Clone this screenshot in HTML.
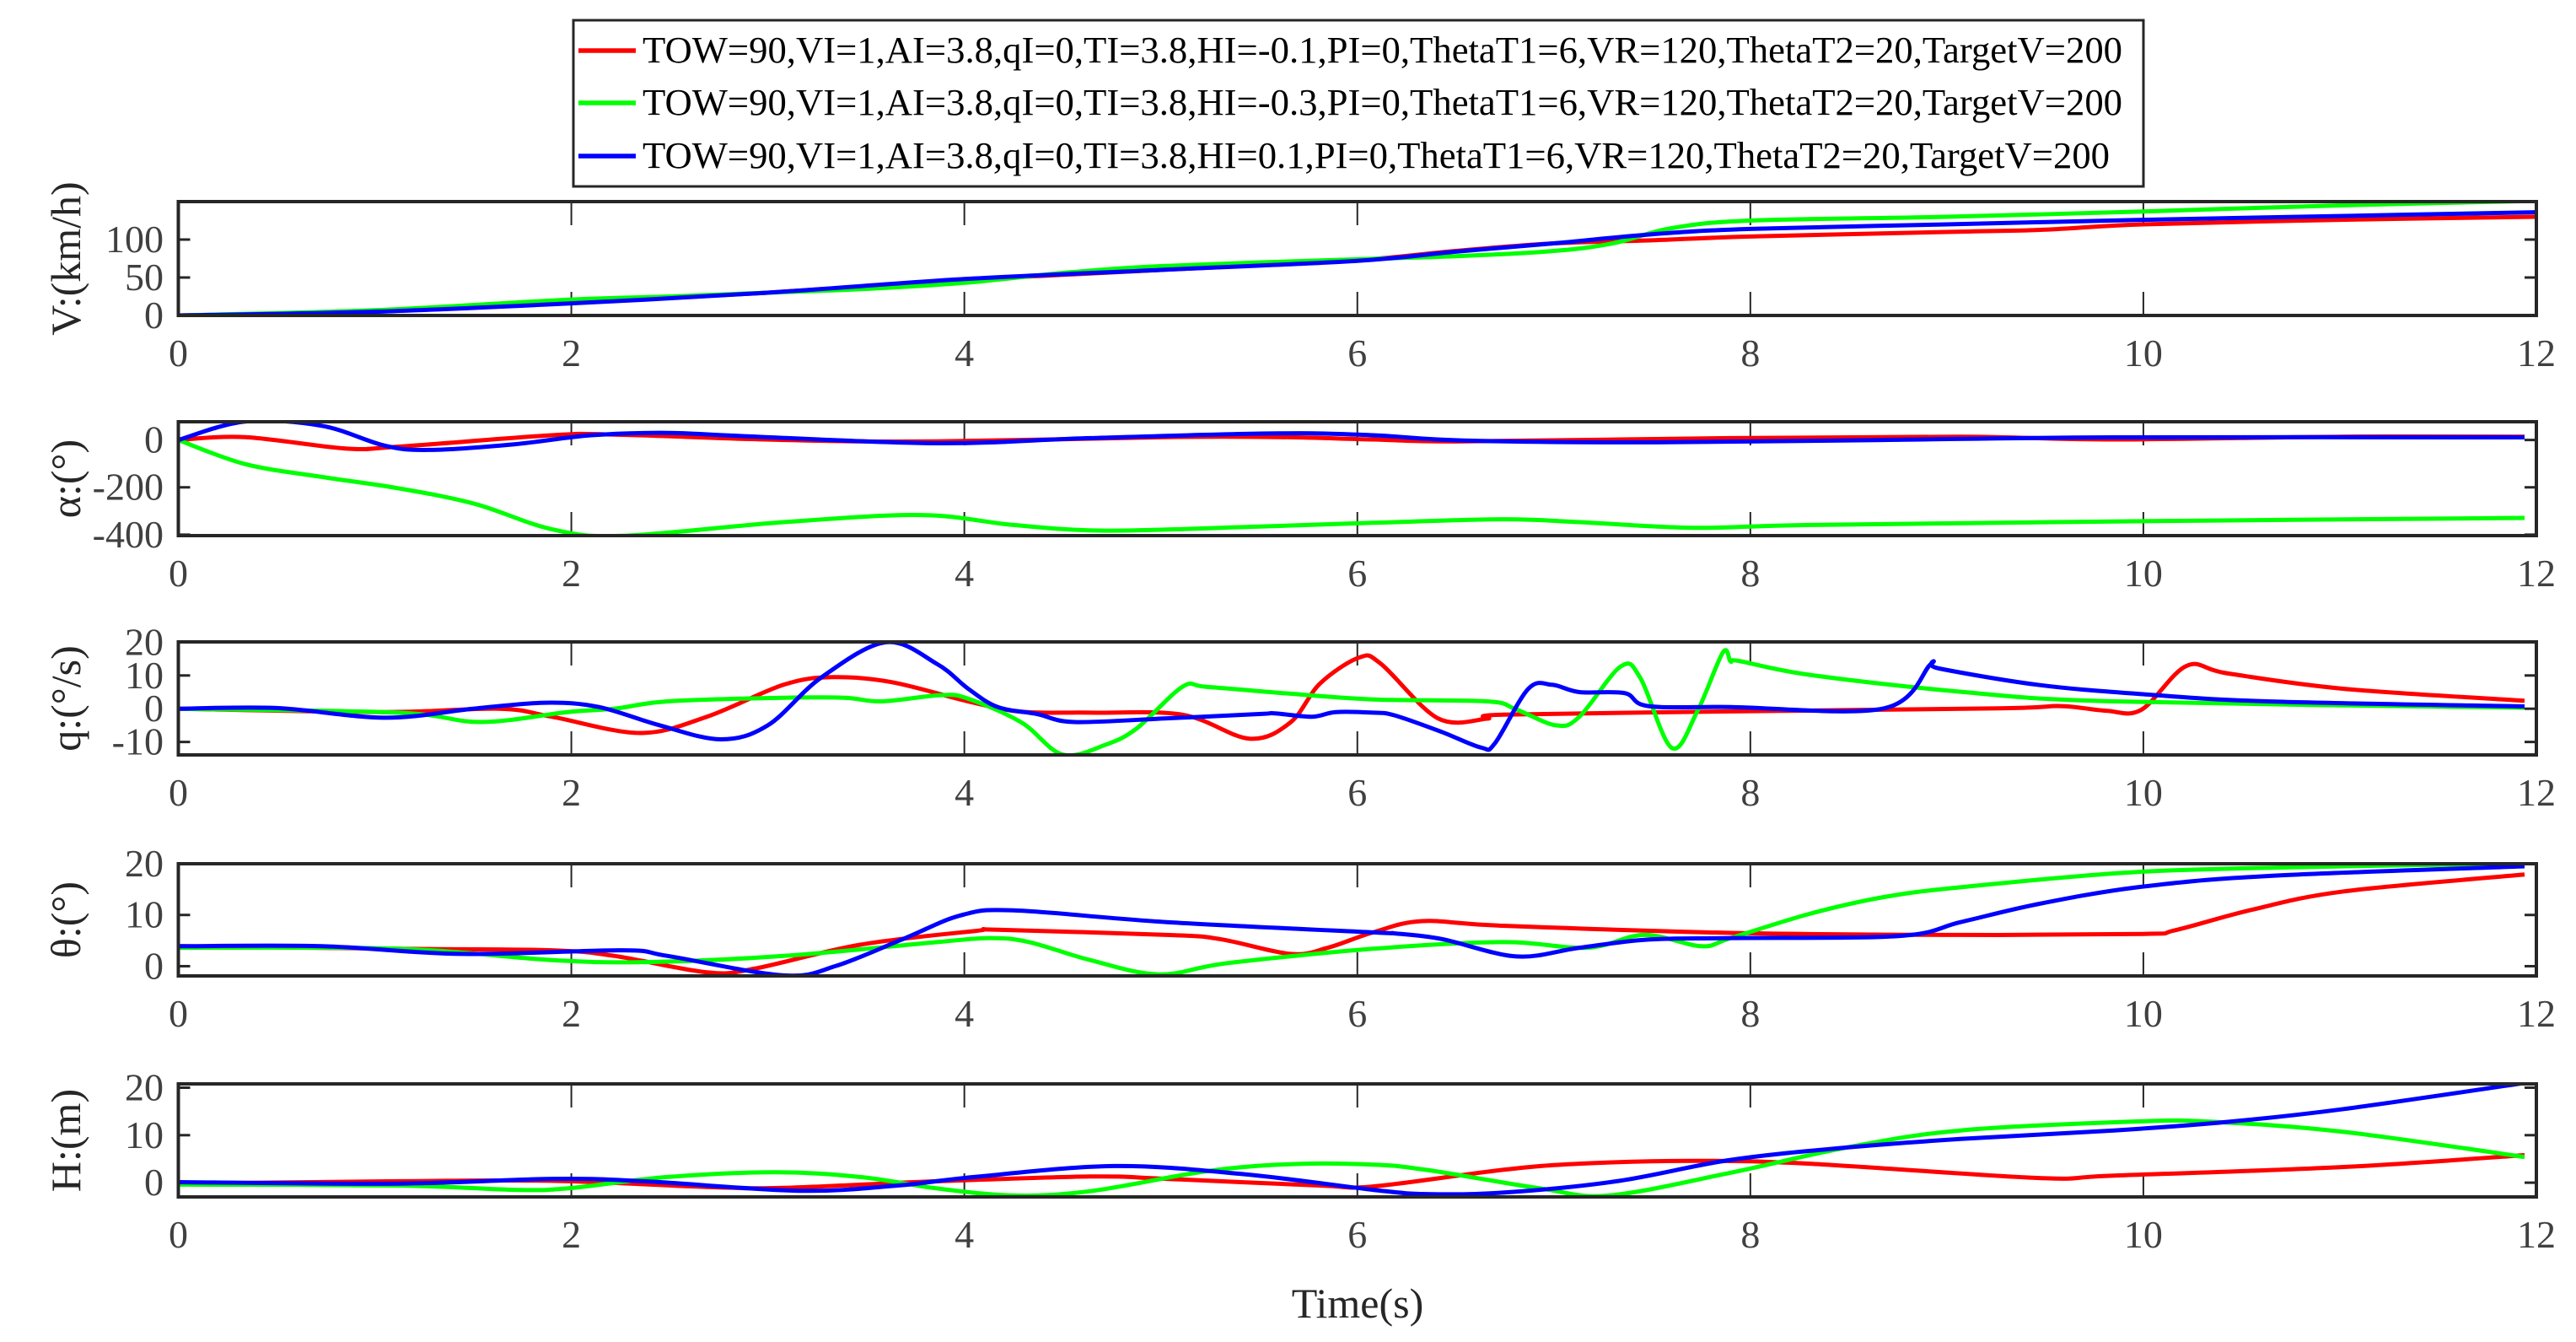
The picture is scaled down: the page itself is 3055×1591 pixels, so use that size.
<!DOCTYPE html>
<html><head><meta charset="utf-8"><style>
html,body{margin:0;padding:0;background:#fff;}
svg{display:block;font-family:"Liberation Serif",serif;}
</style></head><body>
<svg id="chart" xmlns="http://www.w3.org/2000/svg" width="3055" height="1591" viewBox="0 0 3055 1591">
<rect width="3055" height="1591" fill="#fff"/>
<g id="plots"></g>
<g>
<rect x="680" y="24" width="1862" height="197" fill="#fff" stroke="#262626" stroke-width="3"/>
<line x1="686" y1="60" x2="754" y2="60" stroke="#ff0000" stroke-width="5.5"/>
<text x="762" y="74" font-size="44" textLength="1755" lengthAdjust="spacingAndGlyphs">TOW=90,VI=1,AI=3.8,qI=0,TI=3.8,HI=-0.1,PI=0,ThetaT1=6,VR=120,ThetaT2=20,TargetV=200</text>
<line x1="686" y1="122" x2="754" y2="122" stroke="#00ff00" stroke-width="5.5"/>
<text x="762" y="136" font-size="44" textLength="1755" lengthAdjust="spacingAndGlyphs">TOW=90,VI=1,AI=3.8,qI=0,TI=3.8,HI=-0.3,PI=0,ThetaT1=6,VR=120,ThetaT2=20,TargetV=200</text>
<line x1="686" y1="185" x2="754" y2="185" stroke="#0000ff" stroke-width="5.5"/>
<text x="762" y="199" font-size="44" textLength="1740" lengthAdjust="spacingAndGlyphs">TOW=90,VI=1,AI=3.8,qI=0,TI=3.8,HI=0.1,PI=0,ThetaT1=6,VR=120,ThetaT2=20,TargetV=200</text>
</g>
<text x="1610" y="1562" font-size="50" text-anchor="middle" fill="#262626">Time(s)</text>
</svg>
<script>
const xTicks = [0,2,4,6,8,10,12];

const vRedT = [0,1,2,3,4,5,6,6.5,7,7.5,8,9,9.5,10,11,12];
const vRed  = [0,5,17,30,47,60,73,85,95,99,104,110,113,120,126,130];
const vGreenT = [0,1,2,2.5,3,3.5,4,4.5,5,6,6.5,7,7.3,7.6,8,9,10,11,12];
const vGreen  = [0,7,21,25,30,35,43,56,65,74,78,85,95,115,125,130,137,145,151];
const vBlueT = [0,1,2,3,4,5,6,6.5,7,7.5,8,9,10,11,12];
const vBlue  = [0,5,16,30,48,60,72,84,95,107,114,120,126,131,136];

const aRedT = [0,0.34,0.85,1.12,1.9,2.22,3.08,3.86,5.03,5.6,6.08,6.54,7.9,9.07,9.85,11.02,11.94];
const aRed  = [0,12,-36,-28,20,23,0,-6,12,12,2,-6,8,14,2,14,14];
const aGreenT = [0,0.34,0.73,1.12,1.51,1.9,2.26,3.08,3.78,4.25,4.72,5.42,6.08,6.74,7.13,7.71,8.3,9.85,11.94];
const aGreen  = [0,-102,-156,-204,-270,-377,-405,-347,-317,-359,-383,-368,-350,-335,-347,-371,-359,-344,-329];
const aBlueT = [0,0.34,0.73,1.05,1.28,1.71,2.1,2.49,2.88,3.86,4.64,5.6,6.08,6.54,7.52,8.68,9.85,11.94];
const aBlue  = [0,78,60,-24,-42,-18,20,30,16,-14,8,28,20,-2,-10,0,11,11];

const qRedT = [0,1.05,1.63,1.9,2.35,2.69,3.08,3.33,3.63,4.02,4.29,4.64,5.11,5.45,5.66,5.81,6.01,6.12,6.41,6.66,6.74,7.9,9.27,9.58,9.81,9.99,10.22,10.43,11.02,11.94];
const qRed  = [0,-1,0,-2.4,-7.3,-2.4,7.2,9.5,8,2.2,-0.9,-1.2,-1.8,-9,-4.1,7.6,15.4,13.5,-2.9,-3,-1.8,-0.8,0.1,0.8,-0.6,-0.3,12.9,10.6,6,2.4];
const qGreenT = [0,1.12,1.54,1.98,2.22,2.49,3.08,3.39,3.58,3.88,4.02,4.29,4.5,4.72,4.88,5.11,5.23,5.62,6.08,6.66,6.8,7.01,7.13,7.34,7.44,7.6,7.73,7.86,7.9,7.94,8.3,9.07,9.85,11.94];
const qGreen  = [0,-1.2,-4,-1,0,2.2,3.3,3.3,2.2,4.1,3,-4.1,-13.8,-10.8,-5.8,6.6,6.6,4.7,2.8,2.2,0,-5,-2.4,12.7,9.3,-11.8,-0.8,16.9,14.2,14.4,10.2,5.1,2.2,0.3];
const qBlueT = [0,0.5,1.05,1.5,1.87,2.14,2.45,2.76,3.0,3.27,3.6,3.86,4.02,4.17,4.37,4.56,5.03,5.5,5.58,5.77,5.89,6.08,6.19,6.43,6.63,6.7,6.87,6.99,7.13,7.36,7.48,7.9,8.68,8.92,8.96,9.46,9.97,10.63,11.94];
const qBlue  = [0,0.2,-2.7,0,1.8,0.5,-5,-9.2,-5,9.3,20,13.5,6,0.5,-1.6,-4,-2.9,-1.6,-1.4,-2.4,-1,-1.2,-2,-7,-11.7,-10.4,6,7.2,5,4.7,0.8,0.5,0.1,13.5,12.1,7.2,4.5,2.2,0.7];

const thRedT = [0,1.12,1.9,2.22,2.69,2.93,3.47,4.06,4.17,5.03,5.3,5.66,5.85,6.08,6.33,6.74,7.9,9.07,10.0,10.16,10.55,11.02,11.94];
const thRed  = [3.9,3.4,3.1,2,-1.2,-0.5,4.2,6.9,7.1,6.1,5.3,2.4,3.6,6.6,8.8,7.9,6.5,6.1,6.3,7,11,14.6,17.9];
const thGreenT = [0,1.12,1.9,2.38,3.08,3.86,4.13,4.33,4.64,4.99,5.34,6.08,6.74,7.17,7.46,7.75,7.9,8.3,8.68,9.07,9.97,11.02,11.94];
const thGreen  = [3.6,3.4,1.2,0.8,2,4.7,5.5,4.7,1.2,-1.6,0.6,3.4,4.7,3.6,6.1,3.9,5.5,10.2,13.5,15.4,18.4,19.5,20];
const thBlueT = [0,0.73,1.44,2.26,2.49,3.08,3.35,3.7,3.98,4.25,5.03,6.08,6.19,6.43,6.81,7.13,7.48,7.9,8.76,9.07,9.46,9.97,10.63,11.94];
const thBlue  = [3.9,3.9,2.4,3.1,2,-1.8,0.1,5.5,9.9,10.9,8.6,6.6,6.4,5.3,1.9,3.6,5.2,5.5,5.9,8.6,12.1,15.4,17.6,19.5];

const hRedT = [0,1.12,1.9,2.69,3.08,3.86,4.64,5.03,5.81,6.08,6.74,7.13,7.71,8.3,9.46,9.85,11.02,11.94];
const hRed  = [-0.2,0.3,0.4,-0.9,-1.1,0.3,1.3,0.8,-0.6,-0.8,2.7,4,4.6,4,1,1.5,3.3,5.8];
const hGreenT = [0,1.12,1.71,1.98,2.49,3.04,3.47,3.86,4.25,4.64,5.23,5.66,6.08,6.35,6.93,7.28,7.9,8.49,9.07,9.97,10.36,11.02,11.94];
const hGreen  = [-0.4,-0.6,-1.5,-1.2,1.2,2.2,1.2,-1.2,-2.7,-1.8,2.4,3.9,3.8,2.7,-1.2,-2.7,2.1,7.4,11,12.9,12.8,10.7,5.4];
const hBlueT = [0,1.12,1.9,2.37,3.16,3.66,4.05,4.76,5.42,6.08,6.35,6.74,7.32,7.9,8.49,9.07,9.85,10.43,11.02,11.94];
const hBlue  = [0.1,-0.2,0.8,0.3,-1.7,-0.6,1.2,3.5,1.8,-1.5,-2.4,-2.1,0.3,4.8,7.4,9.2,11,12.8,15.5,21];

const panels = [
 {key:'velocity', top:239, bottom:374, ymin:0, ymax:150, ticks:[0,50,100], label:'V:(km/h)',
  series:[[vRedT,vRed,'#ff0000','red'],[vGreenT,vGreen,'#00ff00','green'],[vBlueT,vBlue,'#0000ff','blue']]},
 {key:'alpha', top:500, bottom:635, ymin:-404, ymax:77, ticks:[-400,-200,0], label:'α:(°)',
  series:[[aRedT,aRed,'#ff0000','red'],[aGreenT,aGreen,'#00ff00','green'],[aBlueT,aBlue,'#0000ff','blue']]},
 {key:'pitch-rate', top:761, bottom:895, ymin:-13.9, ymax:20.1, ticks:[-10,0,10,20], label:'q:(°/s)',
  series:[[qRedT,qRed,'#ff0000','red'],[qGreenT,qGreen,'#00ff00','green'],[qBlueT,qBlue,'#0000ff','blue']]},
 {key:'theta', top:1024, bottom:1157, ymin:-1.9, ymax:20, ticks:[0,10,20], label:'θ:(°)',
  series:[[thRedT,thRed,'#ff0000','red'],[thGreenT,thGreen,'#00ff00','green'],[thBlueT,thBlue,'#0000ff','blue']]},
 {key:'height', top:1285, bottom:1419, ymin:-3, ymax:20.8, ticks:[0,10,20], label:'H:(m)',
  series:[[hRedT,hRed,'#ff0000','red'],[hGreenT,hGreen,'#00ff00','green'],[hBlueT,hBlue,'#0000ff','blue']]}
];

const NS='http://www.w3.org/2000/svg';
const X0=211.5, X1=3008, XMAX=12;
const xs = t => X0 + (X1-X0)*t/XMAX;
function mk(tag, attrs, parent){const e=document.createElementNS(NS,tag);for(const k in attrs)e.setAttribute(k,attrs[k]);parent.appendChild(e);return e;}
function spline(pts){
  let d='M'+pts[0][0].toFixed(1)+','+pts[0][1].toFixed(1);
  for(let i=0;i<pts.length-1;i++){
    const p0=pts[Math.max(0,i-1)],p1=pts[i],p2=pts[i+1],p3=pts[Math.min(pts.length-1,i+2)];
    const c1=[p1[0]+(p2[0]-p0[0])/6,p1[1]+(p2[1]-p0[1])/6];
    const c2=[p2[0]-(p3[0]-p1[0])/6,p2[1]-(p3[1]-p1[1])/6];
    d+=' C'+c1[0].toFixed(1)+','+c1[1].toFixed(1)+' '+c2[0].toFixed(1)+','+c2[1].toFixed(1)+' '+p2[0].toFixed(1)+','+p2[1].toFixed(1);
  }
  return d;
}
const root=document.getElementById('plots');
panels.forEach((p,pi)=>{
  const ys = v => p.bottom - (p.bottom-p.top)*(v-p.ymin)/(p.ymax-p.ymin);
  const g=mk('g',{},root);
  
  
  const defs=mk('defs',{},g);
  const cp=mk('clipPath',{id:'clip'+pi},defs);
  mk('rect',{x:X0,y:p.top,width:X1-X0,height:p.bottom-p.top},cp);
  xTicks.forEach(t=>{
    const x=xs(t);
    if(t>0&&t<XMAX){
      const a=mk('line',{x1:x,y1:p.top,x2:x,y2:p.top+28,stroke:'#262626','stroke-width':2},g);
      
      
      const b=mk('line',{x1:x,y1:p.bottom,x2:x,y2:p.bottom-28,stroke:'#262626','stroke-width':2},g);
      
      
    }
    const tl=mk('text',{x:x,y:p.bottom+60,'font-size':46,'text-anchor':'middle',fill:'#404040'},g);
    tl.textContent=String(t);
    
    
  });
  p.ticks.forEach(v=>{
    const y=ys(v);
    const a=mk('line',{x1:X0,y1:y,x2:X0+14,y2:y,stroke:'#262626','stroke-width':3},g);
    
    
    const b=mk('line',{x1:X1,y1:y,x2:X1-14,y2:y,stroke:'#262626','stroke-width':3},g);
    
    
    const tl=mk('text',{x:194,y:y+15,'font-size':46,'text-anchor':'end',fill:'#404040'},g);
    tl.textContent=String(v);
    
    
  });
  p.series.forEach(s=>{
    const pts=s[0].map((t,i)=>[xs(t),ys(s[1][i])]);
    const path=mk('path',{d:spline(pts),fill:'none',stroke:s[2],'stroke-width':5,'stroke-linejoin':'round','clip-path':'url(#clip'+pi+')'},g);
    
    
  });
  const box=mk('rect',{x:X0,y:p.top,width:X1-X0,height:p.bottom-p.top,fill:'none',stroke:'#262626','stroke-width':4},g);
  
  
  const cy=(p.top+p.bottom)/2;
  const yl=mk('text',{x:0,y:0,'font-size':50,'text-anchor':'middle',fill:'#262626',transform:'translate(95,'+cy+') rotate(-90)'},g);
  yl.textContent=p.label;
  
  
});
</script>
</body></html>
